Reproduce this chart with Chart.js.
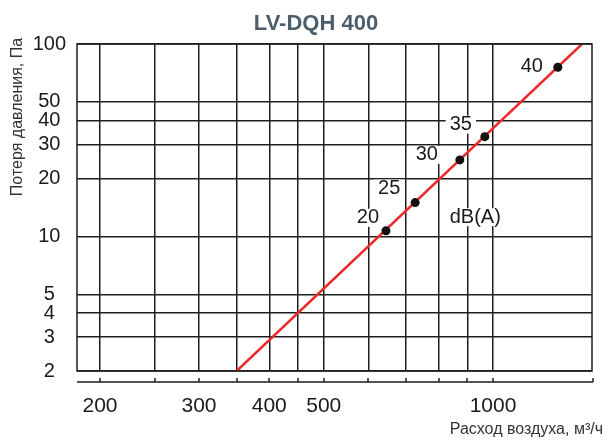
<!DOCTYPE html>
<html>
<head>
<meta charset="utf-8">
<script src="https://cdn.jsdelivr.net/npm/chart.js@4.4.1/dist/chart.umd.min.js"></script>
<style>
  html, body { margin: 0; padding: 0; background: #fff; }
  #wrap { width: 613px; height: 447px; }
</style>
</head>
<body>
<div id="wrap"><canvas id="chart" width="613" height="447"></canvas></div>
<script>
// LV-DQH 400 - pressure loss vs air flow

// operating points (air flow m3/h, pressure loss Pa, noise dB(A))
const flowRates = [645, 727, 873, 967, 1304];
const pressures = [10.7, 15.0, 25.0, 33.0, 75.7];
const noiseLevels = [20, 25, 30, 35, 40];

// characteristic line, two ends
const curveFlow = [350, 1440];
const curvePressure = [2, 100];

// grid / tick values
const xGridValues = [200, 250, 300, 350, 400, 450, 500, 600, 700, 800, 900, 1000];
const xTickLabels = [200, 300, 400, 500, 1000];
const yGridValues = [2, 3, 4, 5, 10, 20, 30, 40, 50, 100];

const FONT = '"Liberation Sans", Arial, sans-serif';
const GRID = '#1e1e1e';

// label offsets from the dots (px)
const labelOffsets = [[-18, -13], [-26, -14], [-33, -5], [-24, -12], [-26, -1]];

function boxedText(ctx, text, px, py) {
  const w = ctx.measureText(text).width;
  ctx.fillStyle = '#fff';
  ctx.fillRect(px - w / 2 - 4, py - 9, w + 8, 18);
  ctx.fillStyle = '#1a1a1a';
  ctx.fillText(text, px, py);
}

const overlay = {
  id: 'overlay',
  beforeDatasetsDraw(chart) {
    const {ctx, scales: {x, y}} = chart;
    ctx.save();
    ctx.font = '20px ' + FONT;
    ctx.textAlign = 'center';
    ctx.textBaseline = 'middle';
    noiseLevels.forEach((n, i) => {
      const px = x.getPixelForValue(flowRates[i]) + labelOffsets[i][0];
      const py = y.getPixelForValue(pressures[i]) + labelOffsets[i][1];
      boxedText(ctx, String(n), px, py);
    });
    boxedText(ctx, 'dB(A)', x.getPixelForValue(930), y.getPixelForValue(12.6));
    ctx.restore();
  },
  afterDraw(chart) {
    const {ctx, chartArea: a, scales: {x}} = chart;
    ctx.save();
    // frame
    ctx.strokeStyle = GRID;
    ctx.lineWidth = 1.5;
    ctx.strokeRect(a.left, a.top, a.right - a.left, a.bottom - a.top);

    // detached x axis line with upward ticks
    const ay = a.bottom + 11;
    ctx.beginPath();
    ctx.moveTo(a.left, ay);
    ctx.lineTo(a.right + 1, ay);
    xGridValues.forEach(v => {
      const px = Math.round(x.getPixelForValue(v));
      ctx.moveTo(px, ay);
      ctx.lineTo(px, ay - 4);
    });
    ctx.moveTo(a.right + 1, ay);
    ctx.lineTo(a.right + 1, ay - 4);
    ctx.stroke();

    // title
    ctx.fillStyle = '#4c5e6b';
    ctx.font = 'bold 22px ' + FONT;
    ctx.textAlign = 'center';
    ctx.textBaseline = 'middle';
    ctx.fillText('LV-DQH 400', 316, 24);

    // axis titles
    ctx.fillStyle = '#333';
    ctx.font = '16px ' + FONT;
    ctx.textAlign = 'right';
    ctx.fillText('Расход воздуха, м³/ч', 603, 430);

    ctx.translate(18, 117);
    ctx.rotate(-Math.PI / 2);
    ctx.textAlign = 'center';
    ctx.fillText('Потеря давления, Па', 0, 0);
    ctx.restore();
  }
};

const ctx = document.getElementById('chart').getContext('2d');

new Chart(ctx, {
  type: 'scatter',
  data: {
    datasets: [
      {
        label: 'curve',
        data: curveFlow.map((v, i) => ({x: v, y: curvePressure[i]})),
        showLine: true,
        borderColor: '#ec2a2a',
        borderWidth: 2.5,
        pointRadius: 0,
        order: 2
      },
      {
        label: 'points',
        data: flowRates.map((v, i) => ({x: v, y: pressures[i]})),
        showLine: false,
        pointRadius: 4.5,
        pointBackgroundColor: '#111',
        pointBorderWidth: 0,
        order: 1
      }
    ]
  },
  options: {
    responsive: false,
    animation: false,
    devicePixelRatio: 1,
    layout: {padding: {top: 44, right: 21, left: 0, bottom: 0}},
    plugins: {legend: {display: false}, tooltip: {enabled: false}},
    scales: {
      x: {
        type: 'logarithmic',
        min: 182,
        max: 1500,
        afterBuildTicks: s => { s.ticks = xGridValues.map(v => ({value: v})); },
        afterFit: s => { s.height = 76; },
        grid: {color: GRID, lineWidth: 1.5, drawTicks: false},
        border: {display: false},
        ticks: {
          autoSkip: false,
          maxRotation: 0,
          padding: 23,
          color: '#1a1a1a',
          font: {family: FONT, size: 21},
          callback: v => xTickLabels.includes(v) ? String(v) : ''
        }
      },
      y: {
        type: 'logarithmic',
        min: 2,
        max: 100,
        afterBuildTicks: s => { s.ticks = yGridValues.map(v => ({value: v})); },
        afterFit: s => { s.width = 77; },
        grid: {color: GRID, lineWidth: 1.5, drawTicks: false},
        border: {display: false},
        ticks: {
          autoSkip: false,
          crossAlign: 'center',
          padding: 11,
          color: '#1a1a1a',
          font: {family: FONT, size: 20},
          callback: v => String(v)
        }
      }
    }
  },
  plugins: [overlay]
});
</script>
</body>
</html>
